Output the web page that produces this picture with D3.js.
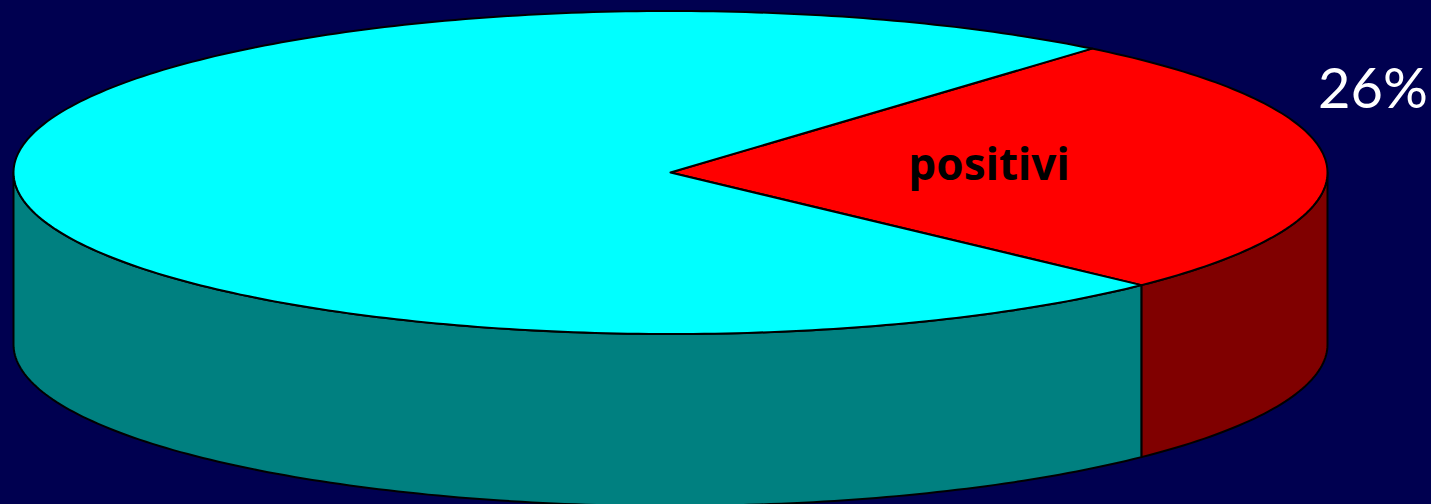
<!DOCTYPE html>
<html><head><meta charset="utf-8">
<script src="https://cdn.jsdelivr.net/npm/d3@7"></script>
<style>html,body{margin:0;padding:0;background:#000050;overflow:hidden}svg{display:block}</style>
</head><body><svg id="c" width="1431" height="504"></svg>
<script>
const categories = ["positivi", "negativi"];
const seriesValues = [26.2, 73.8];
const topColors = ["#ff0000", "#00ffff"];
const sideColors = ["#800000", "#008080"];
const sliceLabel = "positivi";
const percentLabel = "26%";

const svg = d3.select("#c");
const cx = 670.5, cy = 172.5, rx = 657, ry = 161.5, depth = 172;
const x = d3.scaleLinear().domain([-1, 1]).range([cx - rx, cx + rx]);
const y = d3.scaleLinear().domain([-1, 1]).range([cy - ry, cy + ry]);
const start = 39.9 * Math.PI / 180;
const pie = d3.pie().sort(null).startAngle(start).endAngle(start + 2 * Math.PI);
const arcs = pie(seriesValues);
const px = a => x(Math.sin(a)), py = a => y(-Math.cos(a));
const samples = (a0, a1) => { const n = Math.max(2, Math.ceil(Math.abs(a1 - a0) * 60)); return d3.range(n + 1).map(i => a0 + (a1 - a0) * i / n); };
const line = d3.line();

// visible front wall spans clock angles 90 deg to 270 deg
const frontA = Math.PI / 2, frontB = 3 * Math.PI / 2;
arcs.forEach((d, i) => {
  const a0 = Math.max(d.startAngle, frontA), a1 = Math.min(d.endAngle, frontB);
  if (a1 <= a0) return;
  const s = samples(a0, a1);
  const pts = s.map(a => [px(a), py(a)]).concat(s.slice().reverse().map(a => [px(a), py(a) + depth]));
  svg.append("path").attr("d", line(pts) + "Z").attr("fill", sideColors[i])
    .attr("stroke", "#000").attr("stroke-width", 2).attr("stroke-linejoin", "round");
});
arcs.forEach((d, i) => {
  const pts = [[x(0), y(0)]].concat(samples(d.startAngle, d.endAngle).map(a => [px(a), py(a)]));
  svg.append("path").attr("d", line(pts) + "Z").attr("fill", topColors[i])
    .attr("stroke", "#000").attr("stroke-width", 2).attr("stroke-linejoin", "round");
});
svg.append("text").text(sliceLabel).attr("x", 989).attr("y", 180).attr("text-anchor", "middle")
  .attr("font-family", "'Noto Sans', sans-serif").attr("font-weight", 700).attr("font-size", 44).attr("fill", "#000");
svg.append("text").text(percentLabel).attr("x", 1373).attr("y", 108).attr("text-anchor", "middle")
  .attr("font-family", "Lato, sans-serif").attr("font-size", 56).attr("fill", "#fff");
</script></body></html>
